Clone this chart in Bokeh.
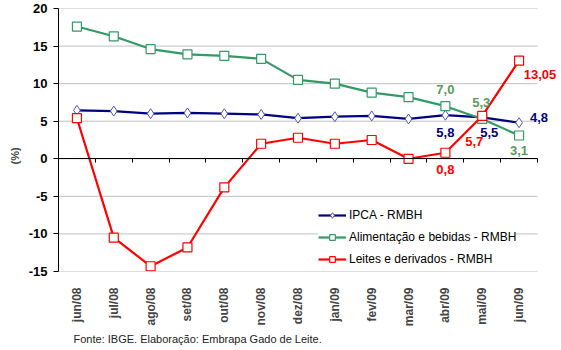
from bokeh.plotting import figure
from bokeh.models import (ColumnDataSource, FixedTicker, LinearAxis, Range1d,
                          LabelSet, Legend, LegendItem, Title)
from bokeh.embed import file_html
from bokeh.resources import INLINE
from bokeh.core.properties import value
import math

months = ["jun/08", "jul/08", "ago/08", "set/08", "out/08", "nov/08", "dez/08",
          "jan/09", "fev/09", "mar/09", "abr/09", "mai/09", "jun/09"]
ipca = [6.45, 6.35, 6.0, 6.1, 6.0, 5.9, 5.4, 5.6, 5.7, 5.3, 5.8, 5.5, 4.8]
alimentacao = [17.6, 16.3, 14.6, 13.9, 13.7, 13.3, 10.5, 10.0, 8.8, 8.2, 7.0, 5.3, 3.1]
leites = [5.4, -10.5, -14.3, -11.8, -3.8, 2.0, 2.8, 2.0, 2.5, 0.0, 0.8, 5.7, 13.05]
y_ticks = [-15, -10, -5, 0, 5, 10, 15, 20]
series_names = ["IPCA - RMBH", "Alimentação e bebidas - RMBH", "Leites e derivados - RMBH"]
source_text = "Fonte: IBGE. Elaboração: Embrapa Gado de Leite."
y_label = "(%)"

# labelled points (month index, text)
ipca_labels = [(10, "5,8"), (11, "5,5"), (12, "4,8")]
alim_labels = [(10, "7,0"), (11, "5,3"), (12, "3,1")]
leite_labels = [(10, "0,8"), (11, "5,7"), (12, "13,05")]

FONT = "Liberation Sans"
n = len(months)
xs = list(range(n))
x_lo, x_hi = -0.5, n - 0.5
# frame extends to the right page edge so end labels are not clipped
frame_px = 561 - 58
cat_px = 479.0 / n
x_end = x_lo + frame_px / cat_px

p = figure(width=561, height=350, output_backend="svg", toolbar_location=None,
           x_range=Range1d(x_lo, x_end), y_range=Range1d(-15, 20),
           min_border_left=58, min_border_right=0, min_border_top=8, min_border_bottom=79,
           background_fill_color="white", border_fill_color="white", outline_line_color=None)

p.xaxis.visible = False
p.xgrid.visible = False
p.ygrid.visible = False

# horizontal gridlines limited to the category span
p.segment(x0=[x_lo] * len(y_ticks), x1=[x_hi] * len(y_ticks), y0=y_ticks, y1=y_ticks,
          line_color="#c0c0c0", line_width=1)

ya = p.yaxis[0]
ya.ticker = FixedTicker(ticks=y_ticks)
ya.major_label_overrides = {t: str(t) for t in y_ticks}
ya.axis_line_color = "black"
ya.major_tick_line_color = "black"
ya.major_tick_out = 5
ya.major_tick_in = 0
ya.minor_tick_line_color = None
ya.major_label_text_font = FONT
ya.major_label_text_font_style = "bold"
ya.major_label_text_font_size = "13px"
ya.major_label_text_color = "black"
ya.major_label_standoff = 6

p.add_layout(Title(text=y_label, align="left", offset=107, text_font=FONT,
                   text_font_size="11px", text_font_style="bold", standoff=10), "left")

# category labels axis (bottom)
lab_axis = LinearAxis(ticker=FixedTicker(ticks=xs),
                      major_label_overrides={i: m for i, m in enumerate(months)})
lab_axis.axis_line_color = None
lab_axis.major_tick_line_color = None
lab_axis.minor_tick_line_color = None
lab_axis.major_label_orientation = math.pi / 2
lab_axis.major_label_text_font = FONT
lab_axis.major_label_text_font_style = "bold"
lab_axis.major_label_text_font_size = "12px"
lab_axis.major_label_standoff = 10
p.add_layout(lab_axis, "below")

# zero axis line with boundary ticks
zero_axis = LinearAxis(ticker=FixedTicker(ticks=[i - 0.5 for i in range(n + 1)]),
                       fixed_location=0, bounds=(x_lo, x_hi))
zero_axis.axis_line_color = "black"
zero_axis.major_tick_line_color = "black"
zero_axis.major_tick_out = 4
zero_axis.major_tick_in = 0
zero_axis.minor_tick_line_color = None
zero_axis.major_label_text_font_size = "0px"
zero_axis.major_label_text_color = None
p.add_layout(zero_axis, "below")

p.add_layout(Title(text=source_text, align="left", offset=15, text_font=FONT,
                   text_font_size="11px", text_font_style="normal",
                   text_color="#222222", standoff=2), "below")

navy = "#000080"
green = "#339966"
red = "#ff0000"

src = ColumnDataSource(dict(x=xs, ipca=ipca, alim=alimentacao, leite=leites))

r1l = p.line("x", "ipca", source=src, line_color=navy, line_width=2.2)
r1m = p.scatter("x", "ipca", source=src, marker="diamond", size=10,
                fill_color="white", line_color="#5555bb", line_width=1)
r2l = p.line("x", "alim", source=src, line_color=green, line_width=2.2)
r2m = p.scatter("x", "alim", source=src, marker="square", size=9,
                fill_color="white", line_color=green, line_width=1.2)
r3l = p.line("x", "leite", source=src, line_color=red, line_width=2.2)
r3m = p.scatter("x", "leite", source=src, marker="square", size=9,
                fill_color="white", line_color=red, line_width=1.2)

def add_labels(labels, vals, color, offsets):
    d = dict(x=[i for i, _ in labels], y=[vals[i] for i, _ in labels],
             t=[t for _, t in labels], dx=[o[0] for o in offsets], dy=[o[1] for o in offsets])
    s = ColumnDataSource(d)
    ls = LabelSet(x="x", y="y", text="t", source=s, x_offset="dx", y_offset="dy",
                  text_color=color, text_font=value(FONT), text_font_style="bold",
                  text_font_size="13px", text_align="center", text_baseline="middle")
    p.add_layout(ls)

add_labels(ipca_labels, ipca, navy, [(0, -17), (7, -15), (20, 5)])
add_labels(alim_labels, alimentacao, "#5a9a5a", [(0, 17), (-1, 16), (0, -15)])
add_labels(leite_labels, leites, red, [(0, -17), (-8, -26), (21, -14)])

legend = Legend(items=[LegendItem(label=series_names[0], renderers=[r1l, r1m]),
                       LegendItem(label=series_names[1], renderers=[r2l, r2m]),
                       LegendItem(label=series_names[2], renderers=[r3l, r3m])],
                location=(260, 5), orientation="vertical")
legend.border_line_color = None
legend.background_fill_color = "white"
legend.background_fill_alpha = 1
legend.label_text_font = FONT
legend.label_text_font_size = "12px"
legend.label_text_color = "black"
legend.glyph_width = 28
legend.glyph_height = 14
legend.label_standoff = 3
legend.spacing = 8
legend.padding = 2
legend.margin = 0
p.add_layout(legend, "center")

open("out.html", "w").write(file_html(p, INLINE))
